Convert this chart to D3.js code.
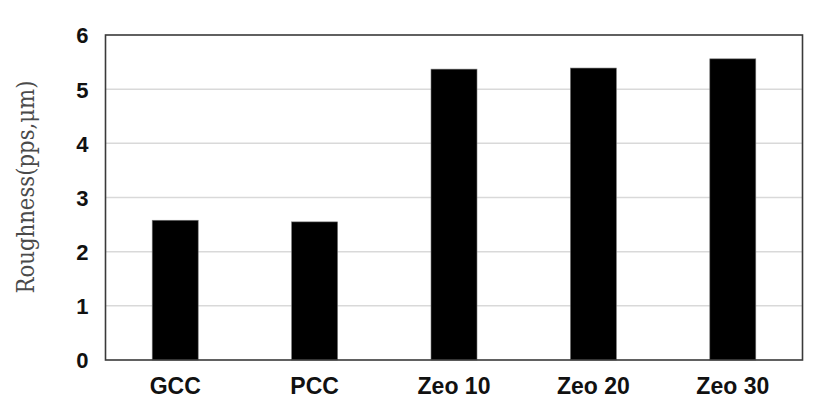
<!DOCTYPE html>
<html><head><meta charset="utf-8">
<script src="https://cdn.jsdelivr.net/npm/d3@7"></script>
<style>body{margin:0;background:#fff}</style>
</head><body>
<svg id="c" width="822" height="411"></svg>
<script>
const categories = ["GCC", "PCC", "Zeo 10", "Zeo 20", "Zeo 30"];
const values = [2.58, 2.55, 5.37, 5.39, 5.56];
const yTicks = [0, 1, 2, 3, 4, 5, 6];
const yTitle = "Roughness(pps,\u03bcm)";

const svg = d3.select("#c");
const L = 105.5, R = 802.5, T = 35, B = 360;
const x = d3.scaleBand().domain(categories).range([L, R]).paddingInner(0.67).paddingOuter(0.335);
const y = d3.scaleLinear().domain([0, 6]).range([B, T]);

svg.append("g").selectAll("line").data(yTicks.filter(d => d > 0 && d < 6)).join("line")
  .attr("x1", L).attr("x2", R).attr("y1", d => y(d)).attr("y2", d => y(d))
  .attr("stroke", "#d9d9d9").attr("stroke-width", 1.5);

svg.append("g").selectAll("rect").data(values).join("rect")
  .attr("x", (d, i) => x(categories[i])).attr("width", x.bandwidth())
  .attr("y", d => y(d)).attr("height", d => B - y(d))
  .attr("fill", "#000").attr("stroke", "#777").attr("stroke-width", 0.6);

svg.append("rect").attr("x", L).attr("y", T).attr("width", R - L).attr("height", B - T)
  .attr("fill", "none").attr("stroke", "#3a3a3a").attr("stroke-width", 1.6);

const yAxis = d3.axisLeft(y).tickValues(yTicks).tickFormat(d3.format("d")).tickSize(0).tickPadding(17);
const gy = svg.append("g").attr("transform", `translate(${L},0)`).call(yAxis);
gy.select(".domain").remove();
gy.selectAll("text").attr("font-family", "Liberation Sans, Arial, sans-serif")
  .attr("font-weight", "bold").attr("font-size", 22).attr("fill", "#111").attr("dy", "0.36em");

const xAxis = d3.axisBottom(x).tickSize(0).tickPadding(18);
const gx = svg.append("g").attr("transform", `translate(0,${B})`).call(xAxis);
gx.select(".domain").remove();
gx.selectAll("text").attr("font-family", "Liberation Sans, Arial, sans-serif")
  .attr("font-weight", "bold").attr("font-size", 23).attr("fill", "#111");

svg.append("text").attr("transform", `translate(34,187) rotate(-90)`)
  .attr("text-anchor", "middle").attr("font-family", "DejaVu Serif, serif")
  .attr("font-size", 24).attr("fill", "#4a4a4a")
  .attr("textLength", 213).attr("lengthAdjust", "spacingAndGlyphs").text(yTitle);
</script>
</body></html>
